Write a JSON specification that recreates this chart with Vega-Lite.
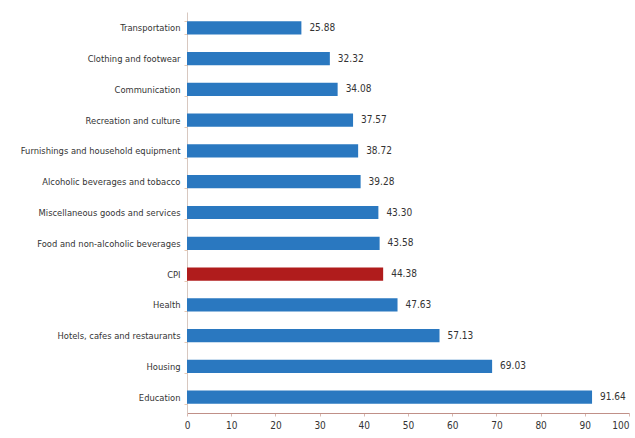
{
  "$schema": "https://vega.github.io/schema/vega-lite/v6.json",
  "width": 442,
  "height": 401,
  "autosize": {"type": "none"},
  "padding": {"left": 187, "top": 12, "right": 6, "bottom": 25},
  "background": "white",
  "config": {
    "view": {"stroke": null},
    "font": "DejaVu Sans Condensed, sans-serif"
  },
  "data": {
    "values": [
      {"category": "Transportation", "value": 25.88, "type": "item"},
      {"category": "Clothing and footwear", "value": 32.32, "type": "item"},
      {"category": "Communication", "value": 34.08, "type": "item"},
      {"category": "Recreation and culture", "value": 37.57, "type": "item"},
      {"category": "Furnishings and household equipment", "value": 38.72, "type": "item"},
      {"category": "Alcoholic beverages and tobacco", "value": 39.28, "type": "item"},
      {"category": "Miscellaneous goods and services", "value": 43.30, "type": "item"},
      {"category": "Food and non-alcoholic beverages", "value": 43.58, "type": "item"},
      {"category": "CPI", "value": 44.38, "type": "cpi"},
      {"category": "Health", "value": 47.63, "type": "item"},
      {"category": "Hotels, cafes and restaurants", "value": 57.13, "type": "item"},
      {"category": "Housing", "value": 69.03, "type": "item"},
      {"category": "Education", "value": 91.64, "type": "item"}
    ]
  },
  "encoding": {
    "y": {
      "field": "category",
      "type": "nominal",
      "sort": null,
      "title": null,
      "scale": {"paddingInner": 0.57, "paddingOuter": 0.3},
      "axis": {
        "labelFont": "DejaVu Sans Condensed, sans-serif",
        "labelFontSize": 9.3,
        "labelColor": "#333333",
        "labelPadding": 4,
        "tickBand": "extent",
        "tickSize": 3,
        "tickColor": "#e8c8b0",
        "domainColor": "#d8c8c0",
        "labelLimit": 200
      }
    },
    "x": {
      "field": "value",
      "type": "quantitative",
      "title": null,
      "scale": {"domain": [0, 100], "nice": false},
      "axis": {
        "values": [0, 10, 20, 30, 40, 50, 60, 70, 80, 90, 100],
        "grid": false,
        "labelFont": "DejaVu Sans Condensed, sans-serif",
        "labelFontSize": 10,
        "labelColor": "#333333",
        "labelPadding": 4,
        "labelAlign": {"condition": {"test": "datum.value == 100", "value": "right"}, "value": "center"},
        "tickSize": 3,
        "tickColor": "#d8b8b0",
        "domainColor": "#c09088",
        "labelFlush": false,
        "labelOverlap": false
      }
    }
  },
  "layer": [
    {
      "mark": {"type": "bar"},
      "encoding": {
        "color": {
          "field": "type",
          "type": "nominal",
          "scale": {"domain": ["item", "cpi"], "range": ["#2a78c0", "#b01c1c"]},
          "legend": null
        }
      }
    },
    {
      "mark": {
        "type": "text",
        "align": "left",
        "baseline": "middle",
        "dx": 8,
        "fontSize": 10,
        "color": "#333333",
        "font": "DejaVu Sans Condensed, sans-serif"
      },
      "encoding": {
        "text": {"field": "value", "type": "quantitative", "format": ".2f"}
      }
    }
  ]
}
